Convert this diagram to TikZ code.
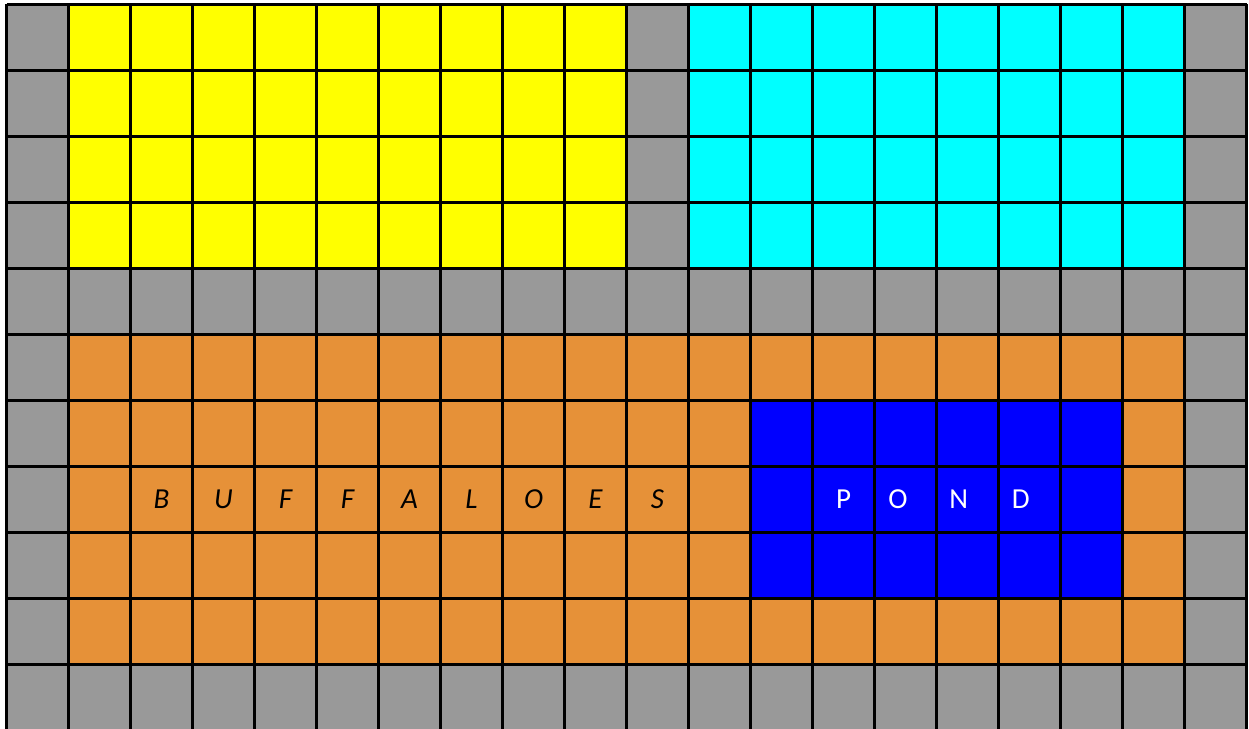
\documentclass[tikz,border=0pt]{standalone}
\usepackage{fontspec}
\setmainfont{Carlito}
\usetikzlibrary{positioning}
\definecolor{pathgray}{HTML}{999999}
\definecolor{herdyellow}{HTML}{FFFF00}
\definecolor{fieldcyan}{HTML}{00FFFF}
\definecolor{pasture}{HTML}{E69138}
\definecolor{pondblue}{HTML}{0000FF}

\begin{document}
\begin{tikzpicture}[
  x=31pt, y=-33pt,
  gridline/.style={black, line width=1.5pt},
  buf/.style={font=\fontsize{14.5}{17}\selectfont\itshape, text=black, inner sep=0pt},
  pnd/.style={font=\fontsize{14.5}{17}\selectfont, text=white, inner sep=0pt}
]
  \clip (-0.105,-0.068) rectangle (20.04,10.977);

  % areas
  \fill[pathgray] (0,0) rectangle (20,11);
  \fill[herdyellow] (1,0) rectangle (10,4);
  \fill[fieldcyan] (11,0) rectangle (19,4);
  \fill[pasture] (1,5) rectangle (19,10);
  \fill[pondblue] (12,6) rectangle (18,9);

  % grid
  \foreach \c in {0,...,20}
    \draw[gridline] (\c,0) -- (\c,11);
  \foreach \r in {0,...,11}
    \draw[gridline] (0,\r) -- (20,\r);

  % labels
  \foreach \l [count=\i from 2] in {B,U,F,F,A,L,O,E,S}
    \node[buf] (buf\i) at (\i+0.5,7.5) {\l};
  \foreach \l/\x in {P/13.5,O/14.38,N/15.36,D/16.36}
    \node[pnd] (pond\l) at (\x,7.5) {\l};
\end{tikzpicture}
\end{document}
